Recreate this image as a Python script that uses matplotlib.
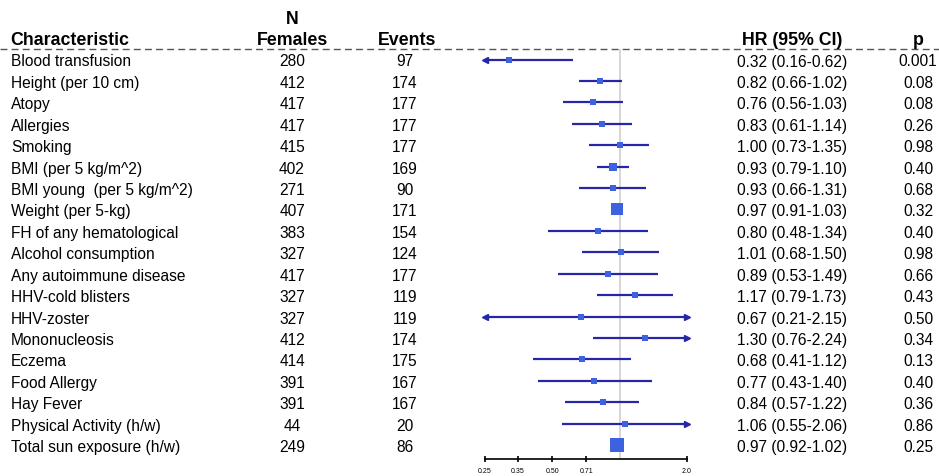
import numpy as np
import matplotlib
matplotlib.use("Agg")
import matplotlib.pyplot as plt

plt.rcParams['font.family'] = ['Liberation Sans', 'DejaVu Sans']

labels = ["Blood transfusion", "Height (per 10 cm)", "Atopy", "Allergies", "Smoking",
          "BMI (per 5 kg/m^2)", "BMI young  (per 5 kg/m^2)", "Weight (per 5-kg)",
          "FH of any hematological", "Alcohol consumption", "Any autoimmune disease",
          "HHV-cold blisters", "HHV-zoster", "Mononucleosis", "Eczema", "Food Allergy",
          "Hay Fever", "Physical Activity (h/w)", "Total sun exposure (h/w)"]
n_females = [280, 412, 417, 417, 415, 402, 271, 407, 383, 327, 417, 327, 327, 412, 414, 391, 391, 44, 249]
events = [97, 174, 177, 177, 177, 169, 90, 171, 154, 124, 177, 119, 119, 174, 175, 167, 167, 20, 86]
hr = [0.32, 0.82, 0.76, 0.83, 1.00, 0.93, 0.93, 0.97, 0.80, 1.01, 0.89, 1.17, 0.67, 1.30, 0.68, 0.77, 0.84, 1.06, 0.97]
ci_lo = [0.16, 0.66, 0.56, 0.61, 0.73, 0.79, 0.66, 0.91, 0.48, 0.68, 0.53, 0.79, 0.21, 0.76, 0.41, 0.43, 0.57, 0.55, 0.92]
ci_hi = [0.62, 1.02, 1.03, 1.14, 1.35, 1.10, 1.31, 1.03, 1.34, 1.50, 1.49, 1.73, 2.15, 2.24, 1.12, 1.40, 1.22, 2.06, 1.02]
p_vals = [0.001, 0.08, 0.08, 0.26, 0.98, 0.40, 0.68, 0.32, 0.40, 0.98, 0.66, 0.43, 0.50, 0.34, 0.13, 0.40, 0.36, 0.86, 0.25]
xticks = [0.25, 0.35, 0.50, 0.71, 2.0]
xtick_labels = ["0.25", "0.35", "0.50", "0.71", "2.0"]

W, H = 939, 477
fig = plt.figure(figsize=(W / 100, H / 100), dpi=100)

# text layer in pixel coordinates
ax_t = fig.add_axes([0, 0, 1, 1])
ax_t.set_xlim(0, W)
ax_t.set_ylim(H, 0)
ax_t.axis('off')

row0, step = 60.5, 21.42
rows = row0 + step * np.arange(len(labels))

fs = 11.2
hfs = 12.8
ax_t.text(292, 24, "N", ha='center', va='baseline', fontsize=hfs, fontweight='bold')
ax_t.text(10, 45, "Characteristic", ha='left', va='baseline', fontsize=hfs, fontweight='bold')
ax_t.text(292, 45, "Females", ha='center', va='baseline', fontsize=hfs, fontweight='bold')
ax_t.text(407, 45, "Events", ha='center', va='baseline', fontsize=hfs, fontweight='bold')
ax_t.text(792, 45, "HR (95% CI)", ha='center', va='baseline', fontsize=hfs, fontweight='bold')
ax_t.text(918, 45, "p", ha='center', va='baseline', fontsize=hfs, fontweight='bold')
ax_t.plot([0, W], [50, 50], color='#555555', lw=1.0, ls=(0, (5, 3)))

for y, lab, nf, ev, h, lo, hi, p in zip(rows, labels, n_females, events, hr, ci_lo, ci_hi, p_vals):
    yb = y + 6
    ax_t.text(11, yb, lab, ha='left', va='baseline', fontsize=fs)
    ax_t.text(292, yb, str(nf), ha='center', va='baseline', fontsize=fs)
    ax_t.text(405, yb, str(ev), ha='center', va='baseline', fontsize=fs)
    ax_t.text(792, yb, f"{h:.2f} ({lo:.2f}-{hi:.2f})", ha='center', va='baseline', fontsize=fs)
    ptxt = f"{p:.3f}" if p < 0.01 else f"{p:.2f}"
    ax_t.text(918, yb, ptxt, ha='center', va='baseline', fontsize=fs)

# forest panel, log scale from 0.25 to 2.0
x0, x1 = 485, 687
y_top, y_bot = 50, 460
ax_f = fig.add_axes([x0 / W, 1 - y_bot / H, (x1 - x0) / W, (y_bot - y_top) / H])
ax_f.patch.set_alpha(0)
ax_f.set_xscale('log')
xmin, xmax = 0.25, 2.0
ax_f.set_xlim(xmin, xmax)
ax_f.set_ylim((y_bot - row0) / step, (y_top - row0) / step)
for s in ['top', 'left', 'right']:
    ax_f.spines[s].set_visible(False)
ax_f.spines['bottom'].set_linewidth(1.2)
ax_f.set_yticks([])
ax_f.set_xticks(xticks)
ax_f.set_xticklabels(xtick_labels)
ax_f.minorticks_off()
ax_f.tick_params(axis='x', direction='inout', length=5, width=1.2, labelsize=5, pad=3)

ax_f.axvline(1.0, color='#d0d0d0', lw=1.2, zorder=0)

line_col = '#2626a6'
box_col = '#3d62e0'
info = 1 / np.log(np.array(ci_hi) / np.array(ci_lo))
box_px = np.maximum(5.4, 13.5 * np.sqrt(info / info.max()))

for i, (h, lo, hi) in enumerate(zip(hr, ci_lo, ci_hi)):
    a, b = max(lo, xmin), min(hi, xmax)
    ax_f.plot([a, b], [i, i], color=line_col, lw=1.6, solid_capstyle='butt', clip_on=False)
    if lo < xmin:
        ax_f.plot(xmin, i, marker='<', color=line_col, ms=4, clip_on=False)
    if hi > xmax:
        ax_f.plot(xmax, i, marker='>', color=line_col, ms=4, clip_on=False)
    ax_f.plot(h, i, marker='s', color=box_col, ms=box_px[i] * 0.72, mew=0, zorder=3)

fig.savefig("out.png", dpi=100)
